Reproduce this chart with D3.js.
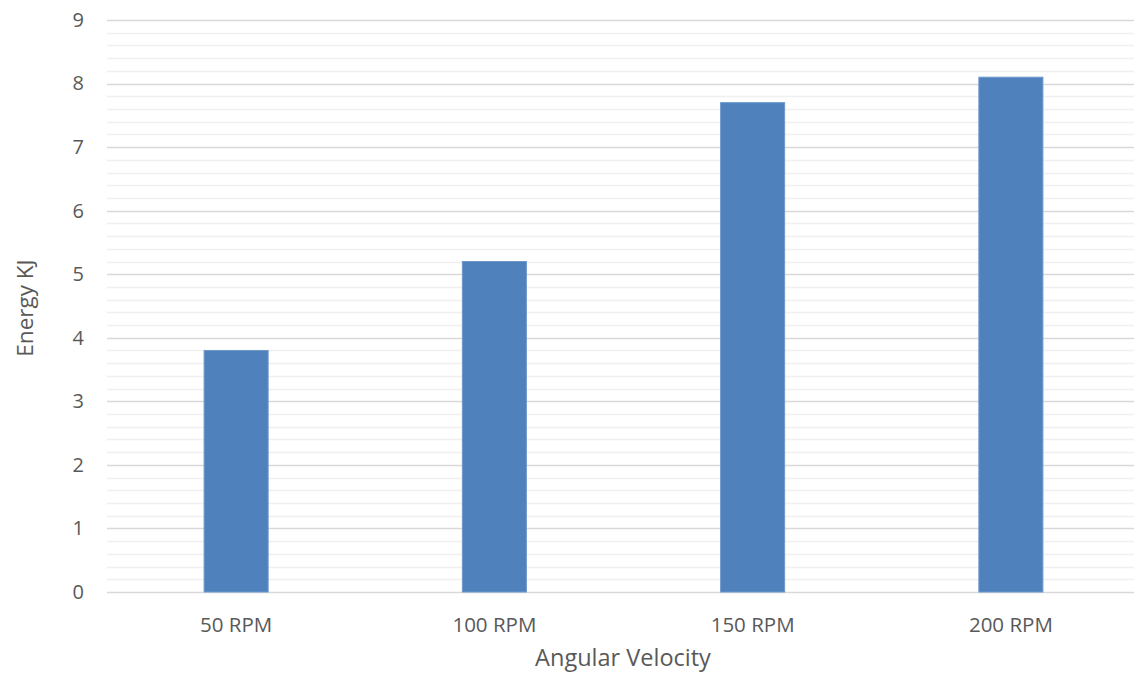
<!DOCTYPE html>
<html>
<head>
<meta charset="utf-8">
<script src="https://cdn.jsdelivr.net/npm/d3@7"></script>
<style>
  body { margin: 0; background: #fff; overflow: hidden; }
</style>
</head>
<body>
<div id="chart"></div>
<script>
// data
const categories = ["50 RPM", "100 RPM", "150 RPM", "200 RPM"];
const energy = [3.8, 5.2, 7.7, 8.1];
const yTicks = [0, 1, 2, 3, 4, 5, 6, 7, 8, 9];
const minorTicks = d3.range(0, 9.01, 0.2).map(v => +v.toFixed(1));

const width = 1134;
const height = 673;
const margin = { top: 20, right: -6, bottom: 81, left: 107 };

const svg = d3.select("#chart")
  .append("svg")
  .attr("width", width)
  .attr("height", height)
  .style("background", "#ffffff");

const font = "'Open Sans', 'Liberation Sans', sans-serif";

const x = d3.scaleBand()
  .domain(categories)
  .range([margin.left, width - margin.right])
  .paddingInner(0)
  .paddingOuter(0);

const y = d3.scaleLinear()
  .domain([0, 9])
  .range([height - margin.bottom, margin.top]);

// minor grid
svg.append("g")
  .selectAll("line")
  .data(minorTicks.filter(v => Math.abs(v - Math.round(v)) > 0.01))
  .join("line")
  .attr("x1", margin.left)
  .attr("x2", width)
  .attr("y1", d => Math.round(y(d)) + 0.5)
  .attr("y2", d => Math.round(y(d)) + 0.5)
  .attr("stroke", "#f0f0f0")
  .attr("stroke-width", 1.5);

// major grid
svg.append("g")
  .selectAll("line")
  .data(yTicks)
  .join("line")
  .attr("x1", margin.left)
  .attr("x2", width)
  .attr("y1", d => Math.round(y(d)) + 0.5)
  .attr("y2", d => Math.round(y(d)) + 0.5)
  .attr("stroke", "#d9d9d9")
  .attr("stroke-width", 1.5);

// bars
const barWidth = x.bandwidth() * 0.248;
svg.append("g")
  .selectAll("rect")
  .data(categories)
  .join("rect")
  .attr("x", (d) => x(d) + x.bandwidth() / 2 - barWidth / 2)
  .attr("y", (d, i) => y(energy[i]))
  .attr("width", barWidth)
  .attr("height", (d, i) => y(0) - y(energy[i]))
  .attr("fill", "#4f81bd")
  .attr("stroke", "#6f98cb")
  .attr("stroke-width", 1);

// Y axis labels
const yAxis = svg.append("g")
  .attr("transform", `translate(${margin.left - 23}, 0)`)
  .call(d3.axisLeft(y).tickValues(yTicks).tickSize(0).tickPadding(0));
yAxis.select(".domain").remove();
yAxis.selectAll("text")
  .style("font-family", font)
  .style("font-size", "20px")
  .attr("fill", "#595959");

// X axis labels
const xAxis = svg.append("g")
  .attr("transform", `translate(0, ${y(0)})`)
  .call(d3.axisBottom(x).tickSize(0).tickPadding(25));
xAxis.select(".domain").remove();
xAxis.selectAll("text")
  .style("font-family", font)
  .style("font-size", "20.5px")
  .attr("fill", "#595959");

// X axis title
svg.append("text")
  .attr("x", 623)
  .attr("y", 666)
  .attr("text-anchor", "middle")
  .style("font-family", font)
  .style("font-size", "23.5px")
  .attr("fill", "#595959")
  .text("Angular Velocity");

// Y axis title
svg.append("text")
  .attr("transform", "rotate(-90)")
  .attr("x", -(y(4.5)) - 2)
  .attr("y", 33)
  .attr("text-anchor", "middle")
  .style("font-family", font)
  .style("font-size", "22.5px")
  .attr("fill", "#595959")
  .text("Energy KJ");
</script>
</body>
</html>
